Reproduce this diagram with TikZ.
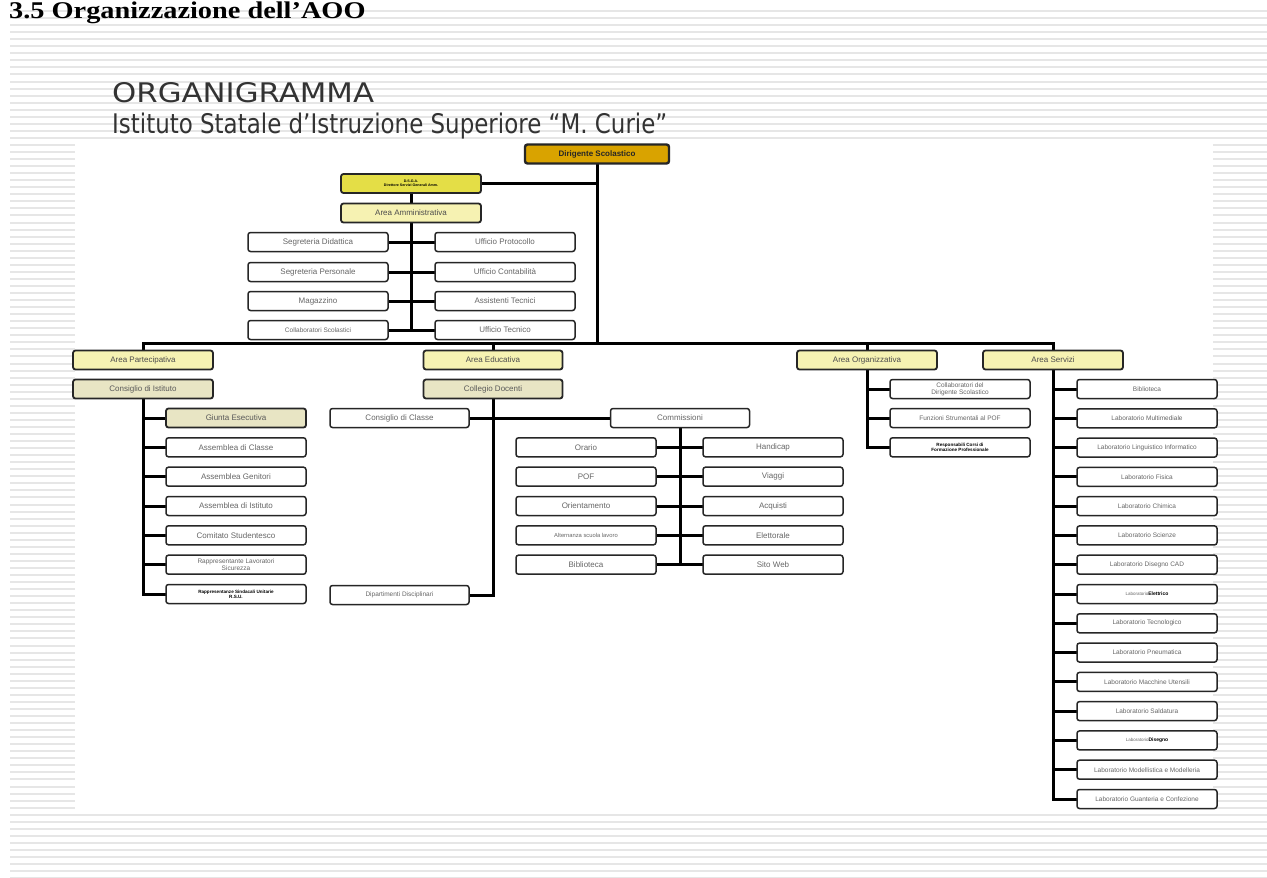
\documentclass[tikz,border=0pt]{standalone}
\usepackage{fontspec}
\setmainfont{Liberation Sans}
\newfontfamily\titlefont{DejaVu Sans}
\newfontfamily\headfont{Liberation Serif}
\usetikzlibrary{backgrounds}
\definecolor{goldfill}{RGB}{217,163,0}
\definecolor{dsgafill}{RGB}{228,222,70}
\definecolor{paleyellow}{RGB}{246,242,178}
\definecolor{khaki}{RGB}{232,229,196}
\definecolor{stripe}{RGB}{230,230,230}
\tikzset{
  bx/.style={draw=black!85, line width=1.5pt, rounded corners=2.5pt,
    minimum width=140pt, minimum height=19pt, inner sep=0pt, align=center,
    text=black!60, font=\fontsize{8}{9}\selectfont, fill=white},
  areabox/.style={bx, fill=paleyellow, line width=1.8pt, text=black!70},
  khbox/.style={bx, fill=khaki, line width=1.8pt, text=black!65},
  smallt/.style={font=\fontsize{6.5}{7}\selectfont},
  twol/.style={font=\fontsize{6.5}{7}\selectfont},
  boldt/.style={text=black, font=\bfseries\fontsize{4.6}{5}\selectfont},
  conn/.style={line width=3pt, black, line cap=rect},
}
\begin{document}
\begin{tikzpicture}[x=1pt,y=-1pt]
\useasboundingbox (0,0) rectangle (1267,878);
% background stripes
\begin{scope}[on background layer]
\foreach \k in {0,...,123}
  \fill[stripe] (10,{10+7.05*\k}) rectangle (1267,{12+7.05*\k});
\fill[white] (75,143) rectangle (1213,812);
\end{scope}
% heading and titles
\node[anchor=base west, inner sep=0pt, font=\headfont\bfseries\fontsize{24}{24}\selectfont] (hd) at (9,18) {\scalebox{1.18}[1]{3.5 Organizzazione dell’AOO}};
\node[anchor=base west, inner sep=0pt, text=black!80, font=\titlefont\fontsize{27}{27}\selectfont] (t1) at (112,102) {\scalebox{1.14}[1]{ORGANIGRAMMA}};
\node[anchor=base west, inner sep=0pt, text=black!80, font=\titlefont\fontsize{27}{27}\selectfont] (t2) at (112,133) {\scalebox{0.85}[1]{Istituto Statale d’Istruzione Superiore “M. Curie”}};

% top
\node[bx, fill=goldfill, line width=2.4pt, minimum width=144pt, text=black!85, font=\bfseries\fontsize{8}{9}\selectfont] (dir) at (597,154) {Dirigente Scolastico};
\node[bx, fill=dsgafill, line width=1.8pt, text=black, font=\bfseries\fontsize{3.6}{4}\selectfont] (dsga) at (411,183.5) {D.S.G.A.\\Direttore Servizi Generali Amm.};
\node[areabox] (aamm) at (411,213) {Area Amministrativa};
\node[bx] (sd) at (318,242) {Segreteria Didattica};
\node[bx] (sp) at (318,272) {Segreteria Personale};
\node[bx] (mg) at (318,301) {Magazzino};
\node[bx, smallt] (cs) at (318,330) {Collaboratori Scolastici};
\node[bx] (up) at (505,242) {Ufficio Protocollo};
\node[bx] (uc) at (505,272) {Ufficio Contabilità};
\node[bx] (ast) at (505,301) {Assistenti Tecnici};
\node[bx] (ut) at (505,330) {Ufficio Tecnico};
\coordinate (busD) at (597,343);

% Area Partecipativa
\node[areabox] (ap) at (143,360) {Area Partecipativa};
\node[khbox] (ci) at (143,389) {Consiglio di Istituto};
\node[khbox] (p1) at (236,418) {Giunta Esecutiva};
\node[bx] (p2) at (236,447.3) {Assemblea di Classe};
\node[bx] (p3) at (236,476.7) {Assemblea Genitori};
\node[bx] (p4) at (236,506) {Assemblea di Istituto};
\node[bx] (p5) at (236,535.3) {Comitato Studentesco};
\node[bx, twol] (p6) at (236,564.7) {Rappresentante Lavoratori\\Sicurezza};
\node[bx, boldt] (p7) at (236,594) {Rappresentanze Sindacali Unitarie\\R.S.U.};

% Area Educativa
\node[areabox, minimum width=139pt] (ae) at (493,360) {Area Educativa};
\node[khbox, minimum width=139pt] (cd) at (493,389) {Collegio Docenti};
\node[bx, minimum width=139pt] (cc) at (399.5,418) {Consiglio di Classe};
\node[bx, minimum width=139pt] (cm) at (680,418) {Commissioni};
\node[bx, minimum width=139pt, smallt] (dd) at (399.5,595) {Dipartimenti Disciplinari};
\node[bx] (e1) at (586,447.3) {Orario};
\node[bx] (e2) at (586,476.7) {POF};
\node[bx] (e3) at (586,506) {Orientamento};
\node[bx, font=\fontsize{5.8}{6}\selectfont] (e4) at (586,535.3) {Alternanza scuola lavoro};
\node[bx] (e5) at (586,564.7) {Biblioteca};
\node[bx] (e6) at (773,447.3) {Handicap};
\node[bx] (e7) at (773,476.7) {Viaggi};
\node[bx] (e8) at (773,506) {Acquisti};
\node[bx] (e9) at (773,535.3) {Elettorale};
\node[bx] (e10) at (773,564.7) {Sito Web};

% Area Organizzativa
\node[areabox] (ao) at (867,360) {Area Organizzativa};
\node[bx, twol] (o1) at (960,389) {Collaboratori del\\Dirigente Scolastico};
\node[bx, smallt] (o2) at (960,418) {Funzioni Strumentali al POF};
\node[bx, boldt] (o3) at (960,447.3) {Responsabili Corsi di\\Formazione Professionale};

% Area Servizi
\node[areabox] (as) at (1053,360) {Area Servizi};
\node[bx, smallt] (s1) at (1147,389) {Biblioteca};
\node[bx, smallt] (s2) at (1147,418.3) {Laboratorio Multimediale};
\node[bx, smallt] (s3) at (1147,447.6) {Laboratorio Linguistico Informatico};
\node[bx, smallt] (s4) at (1147,476.9) {Laboratorio Fisica};
\node[bx, smallt] (s5) at (1147,506.1) {Laboratorio Chimica};
\node[bx, smallt] (s6) at (1147,535.4) {Laboratorio Scienze};
\node[bx, smallt] (s7) at (1147,564.7) {Laboratorio Disegno CAD};
\node[bx, smallt] (s8) at (1147,594) {{\fontsize{4.5}{5}\selectfont Laboratorio}{\color{black}\bfseries\fontsize{5}{5}\selectfont Elettrico}};
\node[bx, smallt] (s9) at (1147,623.3) {Laboratorio Tecnologico};
\node[bx, smallt] (s10) at (1147,652.6) {Laboratorio Pneumatica};
\node[bx, smallt] (s11) at (1147,681.9) {Laboratorio Macchine Utensili};
\node[bx, smallt] (s12) at (1147,711.1) {Laboratorio Saldatura};
\node[bx, smallt] (s13) at (1147,740.4) {{\fontsize{4.5}{5}\selectfont Laboratorio}{\color{black}\bfseries\fontsize{5}{5}\selectfont Disegno}};
\node[bx, smallt] (s14) at (1147,769.7) {Laboratorio Modellistica e Modelleria};
\node[bx, smallt] (s15) at (1147,799) {Laboratorio Guanteria e Confezione};

% connectors
\begin{scope}[on background layer]
\draw[conn] (dir.center) -- (busD);
\draw[conn] (dsga.center) -- (dsga.center -| dir.center);
\draw[conn] (dsga) -- (aamm);
\draw[conn] (aamm.center) -- (aamm.center |- cs.center);
\foreach \n in {sd,sp,mg,cs,up,uc,ast,ut}
  \draw[conn] (\n.center) -- (\n.center -| aamm.center);
\draw[conn] (ap.center) |- (busD) -| (as.center);
\draw[conn] (ae.center) -- (ae.center |- busD);
\draw[conn] (ao.center) -- (ao.center |- busD);
% partecipativa
\draw[conn] (ci.center) |- (p7.center);
\foreach \n in {p1,p2,p3,p4,p5,p6}
  \draw[conn] (\n.center) -- (\n.center -| ci.center);
% educativa
\draw[conn] (cd.center) |- (dd.center);
\draw[conn] (cc.center) -- (cm.center);
\draw[conn] (cm.center) -- (cm.center |- e5.center);
\foreach \n in {e1,e2,e3,e4,e5,e6,e7,e8,e9,e10}
  \draw[conn] (\n.center) -- (\n.center -| cm.center);
% organizzativa
\draw[conn] (ao.center) |- (o3.center);
\foreach \n in {o1,o2}
  \draw[conn] (\n.center) -- (\n.center -| ao.center);
% servizi
\draw[conn] (as.center) |- (s15.center);
\foreach \n in {s1,s2,s3,s4,s5,s6,s7,s8,s9,s10,s11,s12,s13,s14}
  \draw[conn] (\n.center) -- (\n.center -| as.center);
\end{scope}
\end{tikzpicture}
\end{document}
